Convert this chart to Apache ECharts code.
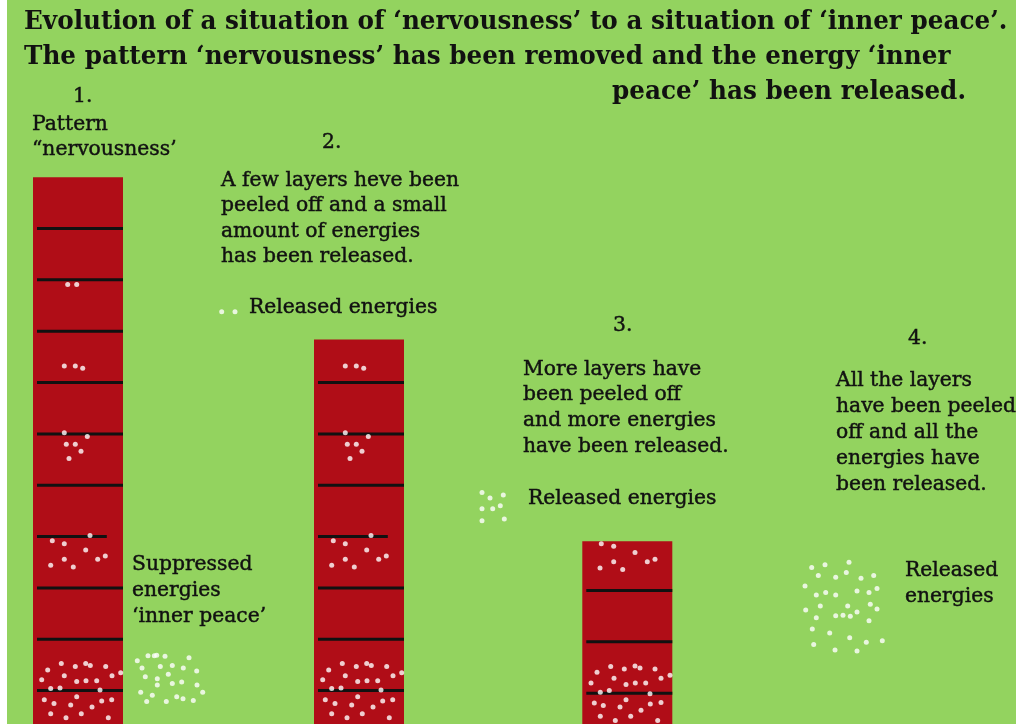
<!DOCTYPE html>
<html>
<head>
<meta charset="utf-8">
<script src="https://cdn.jsdelivr.net/npm/echarts@6/dist/echarts.min.js"></script>
<style>html,body{margin:0;padding:0;background:#fff}#c{width:1016px;height:724px}</style>
</head>
<body>
<div id="c"></div>
<script>
// ---- data (x: horizontal position in tens of px units, y: layers) ----
const stages = ['1.', '2.', '3.', '4.'];
const barCenters = [7.8, 35.9, 62.73];
const layerCounts = [11, 7.84, 3.91];
// [barCenter, layer, fraction of bar width reached by the line]
const layerLines1 = [[7.8,1,1],[7.8,2,1],[7.8,3,1],[7.8,4,0.82],[7.8,5,1],[7.8,6,1],[7.8,7,1],[7.8,8,1],[7.8,9,1],[7.8,10,1]];
const layerLines2 = [[35.9,1,1],[35.9,2,1],[35.9,3,1],[35.9,4,0.82],[35.9,5,1],[35.9,6,1],[35.9,7,1]];
const layerLines3 = [[62.73,0.95,1],[62.73,1.95,1],[62.73,2.95,1]];

const bar1Dots = [[6.77,8.91],[7.67,8.91],
 [6.43,7.32],[7.53,7.32],[8.27,7.28],
 [6.43,6.02],[8.73,5.95],[6.63,5.80],[7.53,5.80],[8.10,5.66],[6.90,5.52],
 [9.00,4.02],[5.23,3.92],[6.43,3.86],[8.57,3.74],[6.43,3.56],[10.53,3.62],[9.77,3.56],[5.07,3.44],[7.33,3.41],
 [6.13,1.53],[7.53,1.47],[8.57,1.53],[9.03,1.49],[10.57,1.47],[4.77,1.40],[12.07,1.35],[6.43,1.29],[7.67,1.18],[8.60,1.19],[9.67,1.19],[11.20,1.29],[4.17,1.21],[5.07,1.04],[6.00,1.05],[10.00,1.01],[4.43,0.82],[5.40,0.75],[7.67,0.88],[7.07,0.72],[9.20,0.68],[10.17,0.80],[11.17,0.82],[5.07,0.55],[6.60,0.47],[8.13,0.55],[10.83,0.47]];
const bar2Dots = [[34.53,7.32],[35.63,7.32],[36.37,7.28],
 [34.53,6.02],[36.83,5.95],[34.73,5.80],[35.63,5.80],[36.20,5.66],[35.00,5.52],
 [37.10,4.02],[33.33,3.92],[34.53,3.86],[36.67,3.74],[34.53,3.56],[38.63,3.62],[37.87,3.56],[33.17,3.44],[35.43,3.41],
 [34.23,1.53],[35.63,1.47],[36.67,1.53],[37.13,1.49],[38.67,1.47],[32.87,1.40],[40.17,1.35],[34.53,1.29],[35.77,1.18],[36.70,1.19],[37.77,1.19],[39.30,1.29],[32.27,1.21],[33.17,1.04],[34.10,1.05],[38.10,1.01],[32.53,0.82],[33.50,0.75],[35.77,0.88],[35.17,0.72],[37.30,0.68],[38.27,0.80],[39.27,0.82],[33.17,0.55],[34.70,0.47],[36.23,0.55],[38.93,0.47]];
const bar3Dots = [[60.13,3.86],[61.37,3.81],[63.50,3.69],[61.37,3.51],[64.73,3.51],[65.50,3.56],[60.00,3.39],[62.27,3.36],
 [61.07,1.47],[62.43,1.42],[63.50,1.48],[64.00,1.44],[65.50,1.42],[59.70,1.36],[67.00,1.30],[61.40,1.24],[62.60,1.12],[63.53,1.15],[64.57,1.15],[66.10,1.24],[59.10,1.15],[60.03,0.97],[60.93,1.00],[65.00,0.94],[59.43,0.76],[60.33,0.71],[62.60,0.82],[62.00,0.68],[64.10,0.62],[65.03,0.74],[66.10,0.77],[60.03,0.50],[61.53,0.42],[63.07,0.50],[65.77,0.42]];
const suppressedDots = [[13.73,1.58],[14.80,1.68],[15.43,1.68],[15.67,1.69],[16.50,1.67],[18.90,1.64],[14.20,1.44],[16.03,1.47],[17.23,1.49],[18.33,1.44],[19.67,1.38],[14.53,1.27],[15.73,1.23],[16.83,1.32],[15.73,1.11],[17.23,1.14],[18.17,1.17],[19.70,1.11],[14.07,0.97],[15.23,0.91],[20.27,0.97],[14.67,0.79],[16.63,0.79],[17.67,0.88],[18.30,0.84],[19.33,0.81]];
const released2Dots = [[22.17,8.38],[23.50,8.38]];
const released3Dots = [[48.20,4.86],[49.00,4.75],[50.33,4.81],[48.20,4.54],[49.27,4.54],[50.03,4.60],[48.20,4.31],[50.43,4.34]];
const released4Dots = [[81.17,3.40],[82.50,3.45],[84.90,3.50],[81.83,3.24],[83.57,3.21],[84.63,3.30],[86.10,3.19],[87.37,3.24],[80.50,3.04],[81.63,2.86],[82.57,2.91],[83.57,2.86],[85.70,2.94],[86.90,2.91],[87.70,2.99],[82.03,2.65],[84.77,2.65],[87.03,2.68],[80.57,2.57],[83.57,2.46],[84.30,2.47],[85.03,2.45],[85.70,2.53],[87.70,2.59],[81.63,2.42],[86.90,2.36],[81.23,2.20],[82.97,2.12],[84.97,2.03],[86.63,1.94],[88.23,1.97],[81.37,1.90],[83.50,1.79],[85.70,1.77]];

// ---- chart ----
const BAR_W = 9; // bar width in x units
const chart = echarts.init(document.getElementById('c'), null, {renderer: 'canvas'});
const FONT = '"DejaVu Serif", "Liberation Serif", serif';
const TXT = '#111';
const BODY = 20.3;
function t(x, y, text) {
  return {
    type: 'text', x: x, y: y, z: 100,
    style: {text: text, font: BODY + 'px ' + FONT, fill: TXT, stroke: TXT, lineWidth: 0.45, textVerticalAlign: 'middle'}
  };
}
function title(x, y, text) {
  return {
    type: 'text', x: x, y: y, z: 100, scaleX: 0.95,
    style: {text: text, font: 'bold 26px ' + FONT, fill: TXT, textVerticalAlign: 'middle'}
  };
}
function lineRender(params, api) {
  const cx = api.value(0), ly = api.value(1), frac = api.value(2);
  const left = cx - BAR_W / 2;
  const p1 = api.coord([left + 0.4, ly]);
  const p2 = api.coord([left + BAR_W * frac, ly]);
  return {type: 'line', shape: {x1: p1[0], y1: p1[1], x2: p2[0], y2: p2[1]}, style: {stroke: '#111', lineWidth: 3}};
}
const dotStyle = {type: 'scatter', symbolSize: 5, itemStyle: {color: '#fff'}, z: 5, silent: true};
chart.setOption({
  backgroundColor: '#ffffff',
  animation: false,
  grid: {left: 7, right: 0, top: 0, bottom: 0, show: true, backgroundColor: '#93d35f', borderWidth: 0},
  xAxis: {type: 'value', min: 0.7, max: 101.6, show: false},
  yAxis: {type: 'value', min: 0.35, max: 14.45, show: false},
  series: [
    {type: 'bar', data: barCenters.map((c, i) => [c, layerCounts[i]]), barWidth: 90, itemStyle: {color: '#b00d17'}, z: 2, silent: true},
    {type: 'custom', renderItem: lineRender, data: layerLines1.concat(layerLines2, layerLines3), z: 3, silent: true},
    Object.assign({data: bar1Dots}, dotStyle),
    Object.assign({data: bar2Dots}, dotStyle),
    Object.assign({data: bar3Dots}, dotStyle),
    Object.assign({data: suppressedDots}, dotStyle),
    Object.assign({data: released2Dots}, dotStyle),
    Object.assign({data: released3Dots}, dotStyle),
    Object.assign({data: released4Dots}, dotStyle)
  ],
  graphic: [
    title(24, 22, 'Evolution of a situation of \u2018nervousness\u2019 to a situation of \u2018inner peace\u2019.'),
    title(24, 57, 'The pattern \u2018nervousness\u2019 has been removed and the energy \u2018inner'),
    title(612, 92, 'peace\u2019 has been released.'),
    t(73, 97, stages[0]),
    t(32, 125, 'Pattern'),
    t(32, 150, '\u201Cnervousness\u2019'),
    t(322, 143, stages[1]),
    t(221, 181, 'A few layers heve been'),
    t(221, 206, 'peeled off and a small'),
    t(221, 232, 'amount of energies'),
    t(221, 257, 'has been released.'),
    t(249, 308, 'Released energies'),
    t(613, 326, stages[2]),
    t(523, 370, 'More layers have'),
    t(523, 395, 'been peeled off'),
    t(523, 421, 'and more energies'),
    t(523, 447, 'have been released.'),
    t(528, 499, 'Released energies'),
    t(908, 339, stages[3]),
    t(836, 381, 'All the layers'),
    t(836, 407, 'have been peeled'),
    t(836, 433, 'off and all the'),
    t(836, 459, 'energies have'),
    t(836, 485, 'been released.'),
    t(905, 571, 'Released'),
    t(905, 597, 'energies'),
    t(132, 565, 'Suppressed'),
    t(132, 591, 'energies'),
    t(132, 617, '\u2018inner peace\u2019')
  ]
});
</script>
</body>
</html>
